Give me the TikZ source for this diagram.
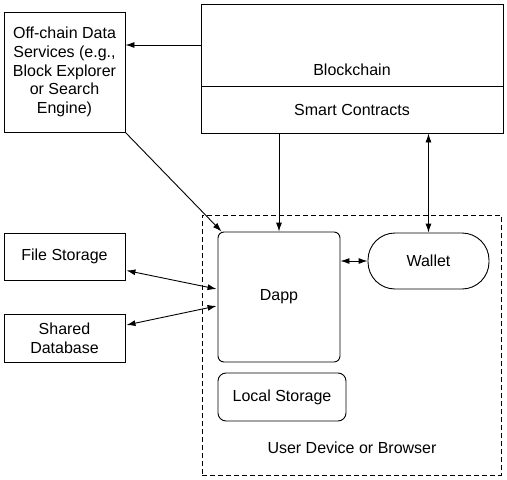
\documentclass[tikz,border=0pt]{standalone}
\usepackage{fontspec}
\setmainfont{Liberation Sans}
\usepackage{tikz}
\usetikzlibrary{calc}
\usetikzlibrary{arrows.meta}
\usetikzlibrary{shapes,positioning}

\begin{document}
\begin{tikzpicture}[x=1pt, y=-1pt, line width=0.9pt,
		every node/.style={rectangle, inner sep=0pt, font=\fontsize{16}{18.7}\selectfont},
		box/.style={draw, align=center},
		roundbox/.style={draw, rounded corners=6pt, align=center},
		link/.style={-{Latex[length=9pt,width=6pt]}},
		twoway/.style={{Latex[length=9pt,width=6pt]}-{Latex[length=9pt,width=6pt]}}]
					\useasboundingbox (0,0) rectangle (507,480);
					% user device
					\node (device) at (351.5,345) [draw, dash pattern=on 5pt off 3pt, minimum width=299pt, minimum height=260pt] {};
					\node (devicetext) at (352,448) {User Device or Browser};
					% blockchain
					\node (chain) at (352,45) [box, minimum width=302pt, minimum height=82pt] {};
					\node (chaintext) at (352,70) {Blockchain};
					\node (contracts) at (352,109.5) [box, minimum width=302pt, minimum height=47pt] {Smart Contracts};
					% outside boxes
					\node (offchain) at (64.5,72) [box, minimum width=121pt, minimum height=120pt] {Off-chain Data\\Services (e.g.,\\Block Explorer\\or Search\\Engine)};
					\node (files) at (64.5,256.5) [box, minimum width=121pt, minimum height=47pt] {File Storage};
					\node (shareddb) at (64.5,338) [box, minimum width=121pt, minimum height=48pt] {Shared\\Database};
					% inside the device
					\node (dapp) at (279,297) [roundbox, minimum width=122pt, minimum height=130pt] {Dapp};
					\node (wallet) at (428.5,261) [draw, rounded corners=27pt, minimum width=121pt, minimum height=56pt] {Wallet};
					\node (local) at (282,397) [roundbox, rounded corners=8pt, minimum width=128pt, minimum height=48pt] {Local Storage};
					% connectors
					\draw[link] (chain.west) -- (offchain.east |- chain.west);
					\draw[link] (offchain.south east) -- ($(dapp.north west)+(4,0)$);
					\draw[link] (dapp.north |- contracts.south) -- (dapp.north);
					\draw[twoway] (wallet.north |- contracts.south) -- (wallet.north);
					\draw[twoway] (wallet.west -| dapp.east) -- (wallet.west);
					\draw[twoway] ($(files.east)+(1,14)$) -- ($(dapp.west)+(-1,-8)$);
					\draw[twoway] ($(shareddb.east)+(1,-13)$) -- ($(dapp.west)+(-1,9)$);
				\end{tikzpicture}
\end{document}
